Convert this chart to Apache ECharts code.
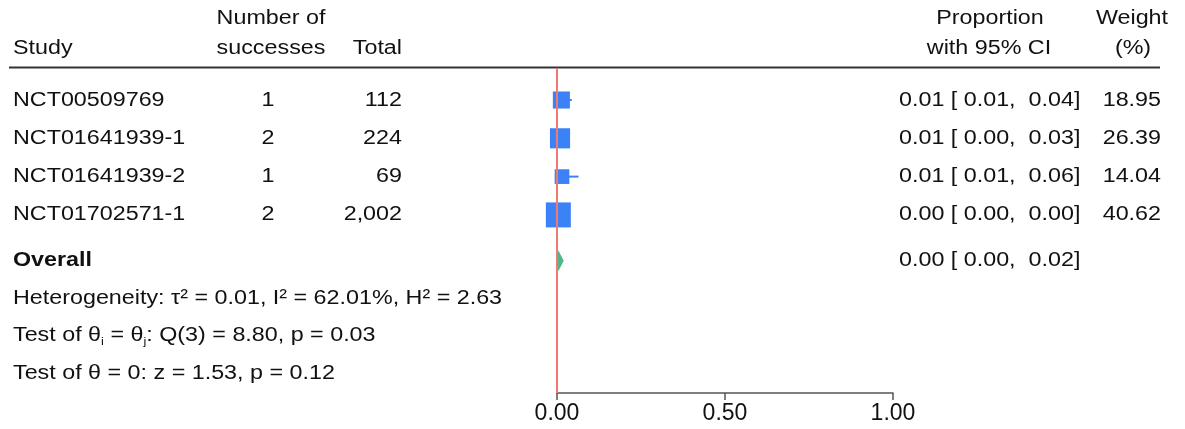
<!DOCTYPE html>
<html>
<head>
<meta charset="utf-8">
<script src="https://cdn.jsdelivr.net/npm/echarts@6/dist/echarts.min.js"></script>
<style>
  html, body { margin: 0; padding: 0; background: #fff; }
  #chart { width: 1185px; height: 429px; }
</style>
</head>
<body>
<div id="chart"></div>
<script>
// study rows
const studies = ['NCT00509769', 'NCT01641939-1', 'NCT01641939-2', 'NCT01702571-1'];
const successes = [1, 2, 1, 2];
const totals = [112, 224, 69, 2002];
const estimates = [0.013, 0.009, 0.0149, 0.004];
const ciLower = [0.006, 0.001, 0.006, 0.000];
const ciUpper = [0.044, 0.030, 0.064, 0.004];
const weights = [18.95, 26.39, 14.04, 40.62];

// pooled estimate
const overall = { est: 0.004, lower: 0.000, upper: 0.020 };

// footnotes
const heterogeneity = 'Heterogeneity: τ² = 0.01, I² = 62.01%, H² = 2.63';
const testHomog = 'Test of θ{s|i} = θ{s|j}: Q(3) = 8.80, p = 0.03';
const testZero = 'Test of θ = 0: z = 1.53, p = 0.12';

const FONT = '"Liberation Sans", Arial, Helvetica, sans-serif';
const BLUE = '#3b82f6';
const GREEN = '#4cb886';
const RED = '#ef7a72';
const STRETCH = 1.165; // the source text is set a bit wide

// row positions on the y scale (layout)
const studyRows = [1, 2, 3, 4];
const overallRow = 5.2;
const footRows = [6.17, 7.14, 8.15];

const chart = echarts.init(document.getElementById('chart'));

const fmt = v => v.toFixed(2);
const ciText = (e, l, u) => fmt(e) + ' [ ' + fmt(l) + ',  ' + fmt(u) + ']';

const option = {
  animation: false,
  grid: { left: 557, right: 292, top: 68, bottom: 36 },
  xAxis: {
    type: 'value',
    min: 0,
    max: 1,
    interval: 0.5,
    axisLine: { lineStyle: { color: '#555', width: 1.5 } },
    axisTick: { length: 7, lineStyle: { color: '#555', width: 1.5 } },
    axisLabel: {
      color: '#111',
      fontFamily: FONT,
      fontSize: 23,
      margin: 9,
      formatter: v => fmt(v)
    },
    splitLine: { show: false }
  },
  yAxis: {
    type: 'value',
    inverse: true,
    min: 0.164,
    max: 8.65,
    show: false
  },
  series: [
    {
      type: 'line',
      data: [],
      z: 1,
      markLine: {
        silent: true,
        symbol: ['none', 'none'],
        label: { show: false },
        lineStyle: { color: RED, type: 'solid', width: 2 },
        data: [{ xAxis: 0 }]
      }
    },
    {
      type: 'custom',
      z: 3,
      data: studies.map((s, i) => [estimates[i], ciLower[i], ciUpper[i], studyRows[i], weights[i]]),
      encode: { x: [0, 1, 2], y: 3 },
      renderItem: function (params, api) {
        const y = api.coord([0, api.value(3)])[1];
        const xe = api.coord([api.value(0), 0])[0];
        const xl = api.coord([api.value(1), 0])[0];
        const xh = api.coord([api.value(2), 0])[0];
        const size = 3.92 * Math.sqrt(api.value(4));
        return {
          type: 'group',
          children: [
            { type: 'line', shape: { x1: xl, y1: y, x2: xh, y2: y }, style: { stroke: BLUE, lineWidth: 2 } },
            { type: 'rect', shape: { x: xe - size / 2, y: y - size / 2, width: size, height: size }, style: { fill: BLUE } }
          ]
        };
      }
    },
    {
      type: 'custom',
      z: 3,
      data: [[overall.est, overall.lower, overall.upper, overallRow]],
      encode: { x: [0, 1, 2], y: 3 },
      renderItem: function (params, api) {
        const y = api.coord([0, api.value(3)])[1];
        const xe = api.coord([api.value(0), 0])[0];
        const xl = api.coord([api.value(1), 0])[0];
        const xh = api.coord([api.value(2), 0])[0];
        const h = 10.5;
        return {
          type: 'polygon',
          shape: { points: [[xl, y], [xe, y - h], [xh, y], [xe, y + h]] },
          style: { fill: GREEN }
        };
      }
    }
  ]
};

chart.setOption(option);

// table text, aligned to the same y scale
const rowY = r => chart.convertToPixel({ yAxisIndex: 0 }, r);
const txt = (text, x, y, align, extra) => ({
  type: 'text',
  x: x,
  y: y,
  scaleX: STRETCH,
  silent: true,
  style: Object.assign({
    text: text,
    fill: '#111',
    font: '20px ' + FONT,
    align: align || 'left',
    verticalAlign: 'middle'
  }, extra || {})
});

const graphics = [];
// header
graphics.push(txt('Study', 13, 48));
graphics.push(txt('Number of', 271, 18, 'center'));
graphics.push(txt('successes', 271, 48, 'center'));
graphics.push(txt('Total', 402, 48, 'right'));
graphics.push(txt('Proportion', 990, 18, 'center'));
graphics.push(txt('with 95% CI', 989, 48, 'center'));
graphics.push(txt('Weight', 1132, 18, 'center'));
graphics.push(txt('(%)', 1133, 48, 'center'));
graphics.push({
  type: 'line',
  silent: true,
  shape: { x1: 9, y1: 67.5, x2: 1160, y2: 67.5 },
  style: { stroke: '#333', lineWidth: 2 }
});

studies.forEach((s, i) => {
  const y = rowY(studyRows[i]);
  graphics.push(txt(s, 13, y));
  graphics.push(txt(String(successes[i]), 268, y, 'center'));
  graphics.push(txt(totals[i].toLocaleString('en-US'), 402, y, 'right'));
  graphics.push(txt(ciText(estimates[i], ciLower[i], ciUpper[i]), 899, y));
  graphics.push(txt(fmt(weights[i]), 1161, y, 'right'));
});

const oy = rowY(overallRow);
graphics.push(txt('Overall', 13, oy, 'left', { font: 'bold 20px ' + FONT }));
graphics.push(txt(ciText(overall.est, overall.lower, overall.upper), 899, oy));

graphics.push(txt(heterogeneity, 13, rowY(footRows[0])));
graphics.push(txt(testHomog, 13, rowY(footRows[1]), 'left', {
  rich: {
    s: { font: '11px ' + FONT, fill: '#111', verticalAlign: 'bottom', lineHeight: 12 }
  },
  lineHeight: 24
}));
graphics.push(txt(testZero, 13, rowY(footRows[2])));

chart.setOption({ graphic: graphics });
</script>
</body>
</html>
